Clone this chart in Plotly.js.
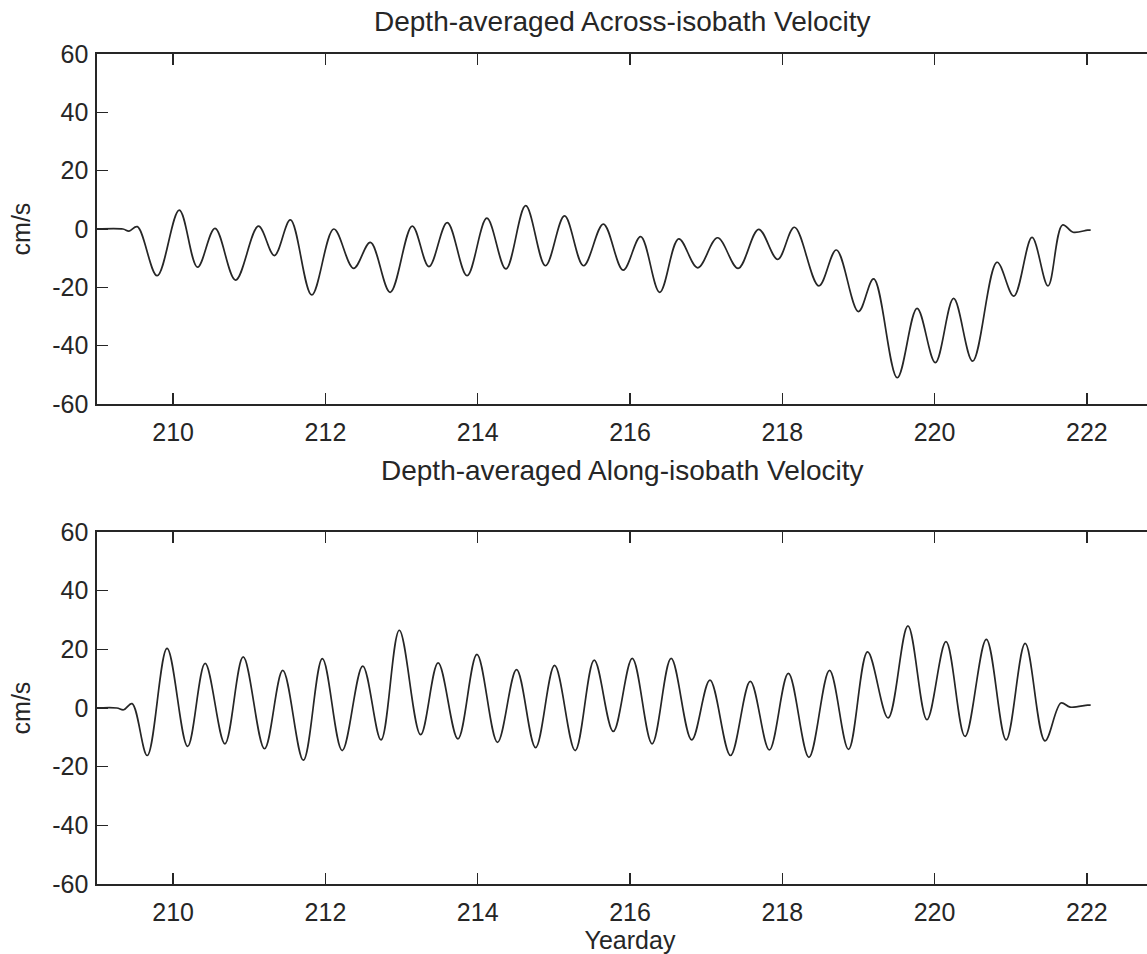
<!DOCTYPE html>
<html>
<head>
<meta charset="utf-8">
<script src="https://cdn.plot.ly/plotly-3.0.1.min.js"></script>
<style>
html,body{margin:0;padding:0;background:#fff;overflow:hidden;}
#chart{width:1200px;height:954px;}
</style>
</head>
<body>
<div id="chart"></div>
<script>
// Depth-averaged across-isobath velocity (cm/s), turning points
const acrossDay = [209.0, 209.34, 209.42, 209.53, 209.79, 210.08, 210.32, 210.55, 210.82, 211.12, 211.33, 211.54, 211.82, 212.11, 212.37, 212.59, 212.85, 213.14, 213.36, 213.60, 213.86, 214.12, 214.37, 214.63, 214.89, 215.14, 215.39, 215.65, 215.91, 216.14, 216.39, 216.64, 216.89, 217.15, 217.42, 217.69, 217.94, 218.16, 218.48, 218.71, 219.00, 219.20, 219.51, 219.77, 220.01, 220.25, 220.50, 220.82, 221.04, 221.28, 221.49, 221.68, 221.82, 222.01, 222.05];
const acrossVel = [0, 0, -0.7, 0.8, -16, 6.5, -13.1, 0.2, -17.5, 1.0, -9.1, 3.1, -22.6, 0, -13.5, -4.6, -21.7, 1.0, -12.9, 2.2, -16, 3.7, -13.7, 8, -12.6, 4.5, -12.6, 1.7, -14.1, -2.6, -21.7, -3.4, -13.3, -3.0, -13.5, -0.1, -10.4, 0.6, -19.5, -7.2, -28.3, -17.1, -51, -27.2, -45.8, -23.8, -45.3, -11.4, -23, -2.9, -19.5, 1.4, -1.1, -0.4, -0.4];

// Depth-averaged along-isobath velocity (cm/s), turning points
const alongDay = [209.0, 209.26, 209.35, 209.46, 209.66, 209.92, 210.19, 210.42, 210.68, 210.92, 211.20, 211.44, 211.71, 211.96, 212.22, 212.49, 212.73, 212.97, 213.25, 213.48, 213.74, 213.99, 214.26, 214.51, 214.76, 215.01, 215.28, 215.53, 215.78, 216.03, 216.29, 216.54, 216.81, 217.05, 217.32, 217.58, 217.83, 218.08, 218.35, 218.62, 218.87, 219.12, 219.39, 219.65, 219.90, 220.15, 220.40, 220.68, 220.94, 221.19, 221.45, 221.66, 221.78, 222.01, 222.05];
const alongVel = [0, 0, -0.6, 1.5, -16.2, 20.3, -13.1, 15.2, -12.2, 17.4, -13.9, 12.8, -17.8, 16.8, -14.5, 14.3, -10.9, 26.5, -9.1, 15.4, -10.5, 18.3, -11.7, 13.1, -13.5, 14.5, -14.5, 16.3, -8.0, 16.9, -12.2, 16.9, -10.9, 9.5, -16.2, 9.1, -14.3, 11.8, -16.8, 12.8, -14.1, 19.1, -3.4, 28, -4.0, 22.6, -9.7, 23.4, -10.9, 22.0, -11.2, 1.7, 0.3, 1.0, 1.0];

const xTickVals = [210, 212, 214, 216, 218, 220, 222];
const xTickText = ['210', '212', '214', '216', '218', '220', '222'];
const yTickVals = [-60, -40, -20, 0, 20, 40, 60];
const yTickText = ['-60', '-40', '-20', '0', '20', '40', '60'];

const titles = ['Depth-averaged Across-isobath Velocity', 'Depth-averaged Along-isobath Velocity'];
const yLabel = 'cm/s';
const xLabel = 'Yearday';

const H = 954, W = 1200;
const L = 97, R = 1163;
const fontFam = 'Liberation Sans, Arial, Helvetica, sans-serif';
const ink = '#262626';

function px2fy(py) { return (H - py) / H; }
function px2fx(px) { return (px - L) / (R - L); }

const lineStyle = {color: ink, width: 1.7, shape: 'spline', smoothing: 1};

const traces = [
  {x: acrossDay, y: acrossVel, type: 'scatter', mode: 'lines', line: lineStyle, xaxis: 'x', yaxis: 'y', hoverinfo: 'x+y'},
  {x: alongDay, y: alongVel, type: 'scatter', mode: 'lines', line: lineStyle, xaxis: 'x2', yaxis: 'y2', hoverinfo: 'x+y'}
];

function xAx(anchor) {
  return {
    range: [209, 223], tickvals: xTickVals, ticktext: xTickText,
    ticks: 'inside', ticklen: 11, tickwidth: 1.3, tickcolor: ink,
    showline: true, linecolor: ink, linewidth: 1.6, mirror: 'ticks',
    showgrid: false, zeroline: false, anchor: anchor,
    ticklabelstandoff: 5,
    tickfont: {family: fontFam, size: 25, color: ink}
  };
}
function yAx(anchor, dom) {
  return {
    range: [-60, 60], tickvals: yTickVals, ticktext: yTickText,
    ticks: 'inside', ticklen: 11, tickwidth: 1.3, tickcolor: ink,
    showline: true, linecolor: ink, linewidth: 1.6, mirror: 'ticks',
    showgrid: false, zeroline: false, anchor: anchor, domain: dom,
    ticklabelstandoff: 2,
    tickfont: {family: fontFam, size: 25, color: ink},
    title: {text: yLabel, font: {family: fontFam, size: 25, color: ink}, standoff: 14}
  };
}

const layout = {
  width: W, height: H,
  margin: {l: L, r: W - R, t: 0, b: 0},
  paper_bgcolor: '#fff', plot_bgcolor: '#fff',
  showlegend: false,
  xaxis: xAx('y'),
  yaxis: yAx('x', [px2fy(404), px2fy(54)]),
  xaxis2: Object.assign(xAx('y2'), {title: {text: xLabel, font: {family: fontFam, size: 25, color: ink}, standoff: 0}}),
  yaxis2: yAx('x2', [px2fy(884), px2fy(532)]),
  annotations: [
    {text: titles[0], xref: 'paper', yref: 'paper', x: px2fx(622), y: px2fy(22), xanchor: 'center', yanchor: 'middle', showarrow: false, font: {family: fontFam, size: 28, color: ink}},
    {text: titles[1], xref: 'paper', yref: 'paper', x: px2fx(622), y: px2fy(470), xanchor: 'center', yanchor: 'middle', showarrow: false, font: {family: fontFam, size: 28, color: ink}}
  ]
};

Plotly.newPlot('chart', traces, layout, {displayModeBar: false, staticPlot: true});
</script>
</body>
</html>
